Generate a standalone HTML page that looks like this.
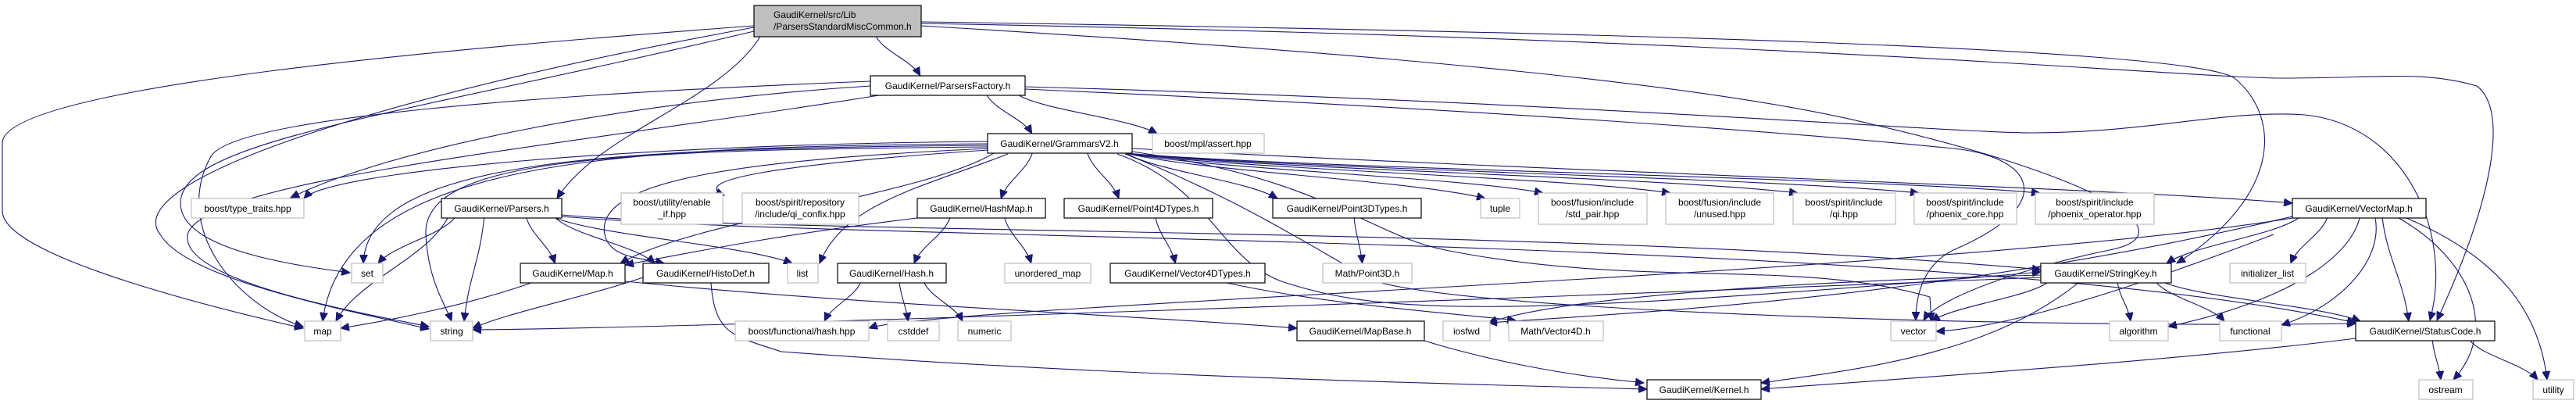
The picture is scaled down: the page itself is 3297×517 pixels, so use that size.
<!DOCTYPE html>
<html><head><meta charset="utf-8"><style>
html,body{margin:0;padding:0;background:#fff;}
svg{display:block;}
text{font-family:"Liberation Sans",Arial,sans-serif;font-size:12px;fill:#000;text-anchor:middle;}
.g{fill:#fff;stroke:#bfbfbf;stroke-width:1.2;}
.k{fill:#fff;stroke:#000;stroke-width:1.2;}
.r{fill:#bfbfbf;stroke:#000;stroke-width:1.2;}
path.e{fill:none;stroke:#191970;stroke-width:1.1;}
</style></head><body>
<svg id="s" width="3297" height="517" viewBox="0 0 3297 517" xmlns="http://www.w3.org/2000/svg">
<defs><marker id="a" markerUnits="userSpaceOnUse" markerWidth="12" markerHeight="10" refX="11" refY="5" orient="auto"><path d="M0,0 L11,5 L0,10 z" fill="#191970" stroke="#191970"/></marker></defs>
<g id="edges"></g>
<g id="nodes">
<rect class="r" x="965" y="7" width="214" height="40"/><text x="990" y="23" style="text-anchor:start">GaudiKernel/src/Lib</text><text x="990" y="38" style="text-anchor:start">/ParsersStandardMiscCommon.h</text>
<rect class="k" x="1114" y="97" width="198" height="25"/><text x="1213" y="114">GaudiKernel/ParsersFactory.h</text>
<rect class="k" x="1264" y="171" width="185" height="25"/><text x="1356" y="188">GaudiKernel/GrammarsV2.h</text>
<rect class="g" x="1475" y="171" width="143" height="25"/><text x="1546" y="188">boost/mpl/assert.hpp</text>
<rect class="g" x="245" y="254" width="144" height="25"/><text x="317" y="271">boost/type_traits.hpp</text>
<rect class="k" x="565" y="254" width="154" height="25"/><text x="642" y="271">GaudiKernel/Parsers.h</text>
<rect class="g" x="795" y="247" width="130" height="40"/><text x="860" y="263">boost/utility/enable</text><text x="860" y="278">_if.hpp</text>
<rect class="g" x="950" y="247" width="149" height="40"/><text x="1024" y="263">boost/spirit/repository</text><text x="1024" y="278">/include/qi_confix.hpp</text>
<rect class="k" x="1174" y="254" width="164" height="25"/><text x="1256" y="271">GaudiKernel/HashMap.h</text>
<rect class="k" x="1362" y="254" width="190" height="25"/><text x="1457" y="271">GaudiKernel/Point4DTypes.h</text>
<rect class="k" x="1629" y="254" width="190" height="25"/><text x="1724" y="271">GaudiKernel/Point3DTypes.h</text>
<rect class="g" x="1895" y="254" width="50" height="25"/><text x="1920" y="271">tuple</text>
<rect class="g" x="1969" y="247" width="139" height="40"/><text x="2038" y="263">boost/fusion/include</text><text x="2038" y="278">/std_pair.hpp</text>
<rect class="g" x="2132" y="247" width="138" height="40"/><text x="2201" y="263">boost/fusion/include</text><text x="2201" y="278">/unused.hpp</text>
<rect class="g" x="2295" y="247" width="131" height="40"/><text x="2360" y="263">boost/spirit/include</text><text x="2360" y="278">/qi.hpp</text>
<rect class="g" x="2450" y="247" width="131" height="40"/><text x="2515" y="263">boost/spirit/include</text><text x="2515" y="278">/phoenix_core.hpp</text>
<rect class="g" x="2605" y="247" width="152" height="40"/><text x="2681" y="263">boost/spirit/include</text><text x="2681" y="278">/phoenix_operator.hpp</text>
<rect class="k" x="2934" y="254" width="171" height="25"/><text x="3019" y="271">GaudiKernel/VectorMap.h</text>
<rect class="g" x="450" y="337" width="40" height="25"/><text x="470" y="354">set</text>
<rect class="k" x="666" y="337" width="134" height="25"/><text x="733" y="354">GaudiKernel/Map.h</text>
<rect class="k" x="823" y="337" width="161" height="25"/><text x="903" y="354">GaudiKernel/HistoDef.h</text>
<rect class="g" x="1008" y="337" width="39" height="25"/><text x="1027" y="354">list</text>
<rect class="k" x="1072" y="337" width="139" height="25"/><text x="1141" y="354">GaudiKernel/Hash.h</text>
<rect class="g" x="1286" y="337" width="110" height="25"/><text x="1341" y="354">unordered_map</text>
<rect class="k" x="1421" y="337" width="198" height="25"/><text x="1520" y="354">GaudiKernel/Vector4DTypes.h</text>
<rect class="g" x="1693" y="337" width="114" height="25"/><text x="1750" y="354">Math/Point3D.h</text>
<rect class="k" x="2612" y="337" width="167" height="25"/><text x="2695" y="354">GaudiKernel/StringKey.h</text>
<rect class="g" x="2854" y="337" width="97" height="25"/><text x="2902" y="354">initializer_list</text>
<rect class="g" x="390" y="411" width="46" height="25"/><text x="413" y="428">map</text>
<rect class="g" x="551" y="411" width="54" height="25"/><text x="578" y="428">string</text>
<rect class="g" x="941" y="411" width="171" height="25"/><text x="1026" y="428">boost/functional/hash.hpp</text>
<rect class="g" x="1136" y="411" width="66" height="25"/><text x="1169" y="428">cstddef</text>
<rect class="g" x="1226" y="411" width="68" height="25"/><text x="1260" y="428">numeric</text>
<rect class="k" x="1660" y="411" width="163" height="25"/><text x="1741" y="428">GaudiKernel/MapBase.h</text>
<rect class="g" x="1847" y="411" width="60" height="25"/><text x="1877" y="428">iosfwd</text>
<rect class="g" x="1931" y="411" width="121" height="25"/><text x="1991" y="428">Math/Vector4D.h</text>
<rect class="g" x="2420" y="411" width="58" height="25"/><text x="2449" y="428">vector</text>
<rect class="g" x="2700" y="411" width="75" height="25"/><text x="2737" y="428">algorithm</text>
<rect class="g" x="2841" y="411" width="79" height="25"/><text x="2880" y="428">functional</text>
<rect class="k" x="3015" y="411" width="178" height="25"/><text x="3104" y="428">GaudiKernel/StatusCode.h</text>
<rect class="k" x="2108" y="486" width="146" height="25"/><text x="2181" y="503">GaudiKernel/Kernel.h</text>
<rect class="g" x="3096" y="486" width="69" height="25"/><text x="3130" y="503">ostream</text>
<rect class="g" x="3242" y="486" width="52" height="25"/><text x="3268" y="503">utility</text>
</g>
</svg>
<script>
var N={
root:[965,7,214,40],pf:[1114,97,198,25],gv:[1264,171,185,25],mpl:[1475,171,143,25],tt:[245,254,144,25],pa:[565,254,154,25],
ei:[795,247,130,40],qc:[950,247,149,40],hm:[1174,254,164,25],p4:[1362,254,190,25],p3:[1629,254,190,25],tu:[1895,254,50,25],
sp:[1969,247,139,40],un:[2132,247,138,40],qi:[2295,247,131,40],pc:[2450,247,131,40],po:[2605,247,152,40],vm:[2934,254,171,25],
set:[450,337,40,25],mp:[666,337,134,25],hd:[823,337,161,25],li:[1008,337,39,25],ha:[1072,337,139,25],um:[1286,337,110,25],
v4t:[1421,337,198,25],m3:[1693,337,114,25],sk:[2612,337,167,25],il:[2854,337,97,25],map:[390,411,46,25],str:[551,411,54,25],
fh:[941,411,171,25],cs:[1136,411,66,25],nu:[1226,411,68,25],mb:[1660,411,163,25],io:[1847,411,60,25],v4:[1931,411,121,25],
vec:[2420,411,58,25],al:[2700,411,75,25],fu:[2841,411,79,25],sc:[3015,411,178,25],ke:[2108,486,146,25],os:[3096,486,69,25],ut:[3242,486,52,25]};
var custom=[
"M965,33 C600,60 3,110 3,183 L3,270 C3,330 300,400 388,420",
"M965,35 C500,120 150,230 205,300 C240,360 460,400 549,421",
"M965,40 C500,150 231,180 231,260 C231,320 380,340 448,349",
"M1179,28 C2000,40 2800,60 2860,100 C2920,150 2920,250 2786,337",
"M1179,30 C2300,50 2800,100 2922,100 C3050,100 3100,90 3170,110 C3210,140 3193,250 3119,410",
"M1179,33 C1800,70 2200,110 2400,160 C2700,230 2800,300 2700,320 C2600,340 2480,380 2462,410",
"M1114,110 C800,130 500,190 372,253",
"M1114,104 C700,120 300,150 270,200 C220,290 300,390 388,418",
"M1125,122 C700,190 260,230 240,300 C230,360 460,400 549,418",
"M1312,111 C2000,130 2500,170 2600,170 C2750,170 2850,140 2950,147 C3080,160 3140,300 3110,410",
"M1312,114 C1900,140 2300,170 2500,190 C2600,200 2640,260 2500,320 C2460,340 2452,380 2452,410",
"M1264,186 C800,190 470,200 465,337",
"M1264,184 C800,188 440,200 413,411",
"M1264,188 C800,192 540,200 545,300 C548,360 570,390 578,411",
"M1264,190 C950,205 760,230 774,300 C780,330 820,330 850,337",
"M1264,192 C1000,210 880,230 927,250",
"M1290,197 C1180,240 1080,260 1049,337",
"M1264,181 C800,185 420,220 389,254",
"M1449,190 C2000,220 2700,240 2934,260",
"M1430,197 C1550,240 1560,330 1640,360 C1760,400 1900,410 2612,348",
"M1449,194 C1700,230 1750,300 1850,320 C2100,370 2300,330 2470,380 L2472,411",
"M1440,197 C1600,260 1700,330 1760,360 C1900,400 2600,420 3015,414",
"M719,275 C1000,300 2000,290 2612,345",
"M719,277 C1100,310 2500,300 3015,413",
"M1174,279 C1000,300 900,320 800,339",
"M800,360 C1100,390 1400,400 1660,420",
"M910,362 C915,430 940,430 1000,450 C1400,480 1800,490 2108,498",
"M823,355 C750,380 650,400 605,420",
"M680,362 C600,390 500,410 436,420",
"M1823,436 C1900,460 2000,480 2104,490",
"M2934,279 C2500,350 1200,390 1112,420",
"M2612,355 C2000,380 900,420 605,422",
"M2934,277 C2500,380 2100,400 1905,413",
"M2612,352 C2300,360 2000,380 1905,413",
"M3015,433 C2800,460 2500,480 2254,498",
"M2660,362 C2550,450 2400,470 2254,490",
"M1570,362 C1700,390 1850,400 1940,410",
"M3020,279 C3010,320 2950,380 2775,418",
"M3040,279 C3050,330 3000,390 2920,416",
"M3070,279 C3160,330 3200,420 3140,486",
"M3080,279 C3200,330 3250,400 3260,486",
"M2910,300 C2700,380 2560,420 2478,424"
];
var simple=[["root","pa"],["root","pf"],["pf","gv"],["pf","mpl"],["gv","hm"],["gv","p4"],["gv","p3"],["gv","tu"],["gv","sp"],["gv","un"],["gv","qi"],["gv","pc"],["gv","po"],["gv","mp"],
["pa","set"],["pa","map"],["pa","str"],["pa","mp"],["pa","hd"],["pa","li"],["hm","ha"],["hm","um"],["ha","fh"],["ha","cs"],["ha","nu"],["p4","v4t"],["p3","m3"],
["vm","sk"],["vm","il"],["vm","sc"],["sk","vec"],["sk","al"],["sk","fu"],["sk","sc"],["sc","os"],["sc","ut"]];
var g=document.getElementById("edges"),ns="http://www.w3.org/2000/svg";
function add(d){var p=document.createElementNS(ns,"path");p.setAttribute("d",d);p.setAttribute("class","e");p.setAttribute("marker-end","url(#a)");g.appendChild(p);}
custom.forEach(add);
simple.forEach(function(e){var s=N[e[0]],t=N[e[1]];
var scx=s[0]+s[2]/2,tcx=t[0]+t[2]/2;
var sx=scx+(tcx-scx)*0.35;sx=Math.max(s[0]+8,Math.min(s[0]+s[2]-8,sx));
var tx=tcx+(scx-tcx)*0.25;tx=Math.max(t[0]+6,Math.min(t[0]+t[2]-6,tx));
var sy=s[1]+s[3],ty=t[1];var h=ty-sy;
add("M"+sx+","+sy+" C"+(sx+(tx-sx)*0.2)+","+(sy+h*0.4)+" "+(tx-(tx-sx)*0.2)+","+(ty-h*0.4)+" "+tx+","+ty);});
</script>
</body></html>
